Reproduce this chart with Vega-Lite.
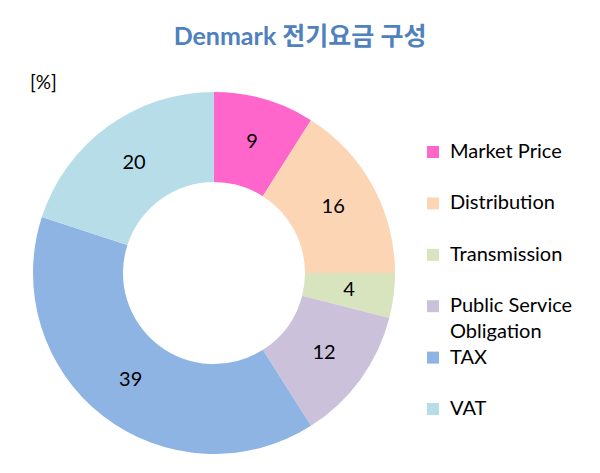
{
  "$schema": "https://vega.github.io/schema/vega-lite/v6.json",
  "padding": {"left": 0, "top": 25, "right": 0, "bottom": 0},
  "background": "white",
  "config": {"font": "Lato, Noto Sans CJK KR", "view": {"stroke": null}, "concat": {"spacing": 0}},
  "title": {"text": "Denmark 전기요금 구성", "anchor": "middle", "frame": "group", "dx": 86, "fontSize": 25, "fontWeight": "bold", "color": "#4F81BD", "font": "Lato, Noto Sans CJK KR", "offset": 24},
  "data": {"values": [
    {"component": "Market Price", "value": 9, "order": 1},
    {"component": "Distribution", "value": 16, "order": 2},
    {"component": "Transmission", "value": 4, "order": 3},
    {"component": "Public Service Obligation", "value": 12, "order": 4},
    {"component": "TAX", "value": 39, "order": 5},
    {"component": "VAT", "value": 20, "order": 6}
  ]},
  "vconcat": [{
    "width": 428,
    "height": 362,
    "title": {"text": "[%]", "anchor": "start", "frame": "group", "dx": 30, "fontSize": 19, "fontWeight": "normal", "color": "#000000", "offset": -1},
    "encoding": {
      "theta": {"field": "value", "type": "quantitative", "stack": true},
      "order": {"field": "order", "type": "quantitative"}
    },
    "layer": [
      {
        "mark": {"type": "arc", "innerRadius": 91, "outerRadius": 181},
        "encoding": {
          "color": {"field": "component", "type": "nominal",
            "scale": {"domain": ["Market Price", "Distribution", "Transmission", "Public Service Obligation", "TAX", "VAT"],
                      "range": ["#FF66CC", "#FCD5B5", "#D7E4BD", "#CCC1DA", "#8EB4E3", "#B7DEE8"]},
            "legend": {"title": null, "orient": "none", "legendX": 423, "legendY": 50,
              "symbolType": "square", "symbolSize": 144, "symbolStrokeWidth": 0,
              "labelFontSize": 20, "labelColor": "#000000", "labelOffset": 7, "labelLimit": 200,
              "rowPadding": 5.4, "padding": 0, "gridAlign": "all",
              "labelExpr": "datum.label == 'Public Service Obligation' ? ['Public Service', 'Obligation'] : datum.label",
              "encode": {"labels": {"update": {"lineHeight": {"value": 26}}}}
            }
          }
        }
      },
      {
        "mark": {"type": "text", "radius": 136, "fontSize": 20, "color": "#000000"},
        "encoding": {"text": {"field": "value", "type": "quantitative"}}
      }
    ]
  }]
}
